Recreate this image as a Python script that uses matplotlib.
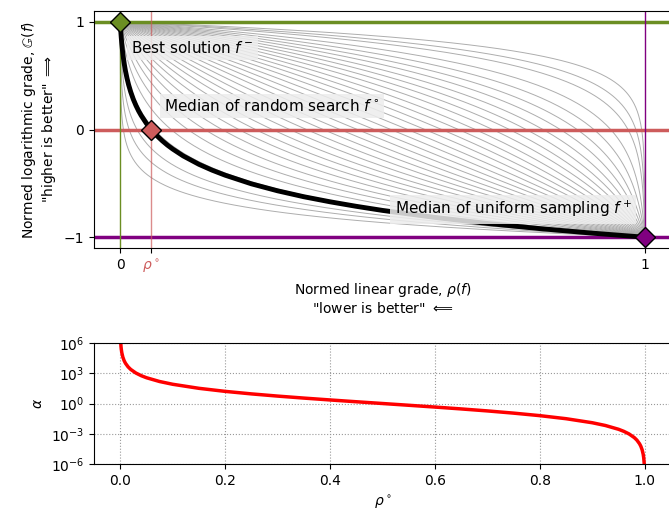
import numpy as np
import matplotlib
matplotlib.use("Agg")
import matplotlib.pyplot as plt

# median of random search
rho_star = 0.059

# where each grey guide curve crosses G = 0
grey_rho_star = [0.006, 0.017, 0.032, 0.065, 0.097, 0.129, 0.161, 0.194, 0.226,
                 0.258, 0.290, 0.323, 0.355, 0.387, 0.419, 0.452, 0.484, 0.516,
                 0.548, 0.581, 0.613, 0.645, 0.677, 0.710, 0.742, 0.774, 0.806,
                 0.839, 0.871, 0.903, 0.935, 0.968, 0.983, 0.994]

# thick black curve, rho -> G
black_rho = [0.0, 0.0005, 0.001, 0.002, 0.003, 0.004, 0.006, 0.008, 0.01, 0.013,
             0.016, 0.02, 0.025, 0.03, 0.035, 0.04, 0.05, 0.059, 0.07, 0.08, 0.09,
             0.1, 0.12, 0.15, 0.175, 0.2, 0.25, 0.3, 0.35, 0.4, 0.45, 0.5, 0.6,
             0.7, 0.8, 0.9, 1.0]
black_G = [1.0, 0.957, 0.918, 0.852, 0.796, 0.747, 0.666, 0.600, 0.544, 0.474,
           0.415, 0.349, 0.280, 0.223, 0.173, 0.130, 0.056, 0.0, -0.058, -0.104,
           -0.145, -0.181, -0.245, -0.323, -0.377, -0.424, -0.504, -0.569, -0.624,
           -0.671, -0.713, -0.751, -0.816, -0.872, -0.920, -0.962, -1.0]

# lower panel: alpha against rho°
alpha_rho = [0.001, 0.0015, 0.002, 0.003, 0.005, 0.0075, 0.01, 0.015, 0.02, 0.03,
             0.04, 0.05, 0.075, 0.1, 0.15, 0.2, 0.25, 0.3, 0.35, 0.4, 0.45, 0.5,
             0.55, 0.6, 0.65, 0.7, 0.75, 0.8, 0.85, 0.9, 0.925, 0.95, 0.96, 0.97,
             0.98, 0.985, 0.99, 0.9925, 0.995, 0.997, 0.998, 0.999]
alpha_val = [9.98e5, 4.43e5, 2.49e5, 1.104e5, 3.96e4, 1.751e4, 9.80e3, 4.31e3,
             2.40e3, 1.045e3, 576, 361, 152, 81, 32.1, 16, 9, 5.44, 3.45, 2.25,
             1.494, 1.0, 0.669, 0.444, 0.290, 0.184, 0.111, 0.0625, 0.0311,
             0.01235, 6.57e-3, 2.77e-3, 1.736e-3, 9.57e-4, 4.17e-4, 2.32e-4,
             1.02e-4, 5.71e-5, 2.53e-5, 9.05e-6, 4.02e-6, 1.0e-6]

green = "#6b8e23"
red = "#cd5c5c"
purple = "#800080"


def grade(rho, r0):
    a = ((1 - r0) / r0) ** 2
    return 1 - 2 * np.log1p((a - 1) * rho) / np.log(a)


fig = plt.figure(figsize=(6.69, 5.12), dpi=100)
ax = fig.add_axes([0.1405, 0.5156, 0.8625, 0.4629])
ax2 = fig.add_axes([0.1405, 0.09375, 0.8625, 0.2363])

rho = np.unique(np.concatenate([np.geomspace(1e-7, 0.5, 500),
                                1 - np.geomspace(1e-7, 0.5, 500), [0, 1]]))
for r0 in grey_rho_star:
    ax.plot(rho, grade(rho, r0), color="0.68", lw=0.7, zorder=1)

ax.plot(black_rho, black_G, color="black", lw=3.5, zorder=3)

ax.axhline(1, color=green, lw=2.5, zorder=2)
ax.axhline(0, color=red, lw=2.5, zorder=2)
ax.axhline(-1, color=purple, lw=2.5, zorder=2)
ax.axvline(0, color=green, lw=1, zorder=2)
ax.axvline(rho_star, color=red, lw=1, alpha=0.7, zorder=2)
ax.axvline(1, color=purple, lw=1, zorder=2)

ax.plot([0], [1], "D", color=green, mec="black", ms=10, zorder=6)
ax.plot([rho_star], [0], "D", color=red, mec="black", ms=10, zorder=6)
ax.plot([1], [-1], "D", color=purple, mec="black", ms=10, zorder=6)

box = dict(facecolor="0.93", edgecolor="none", alpha=0.85, pad=3)
ax.text(0.021, 0.76, "Best solution $f^-$", fontsize=11, va="center", bbox=box, zorder=5)
ax.text(0.084, 0.22, "Median of random search $f^\\circ$", fontsize=11, va="center",
        bbox=box, zorder=5)
ax.text(0.523, -0.74, "Median of uniform sampling $f^+$", fontsize=11, va="center",
        bbox=box, zorder=5)

ax.set_xlim(-0.05, 1.05)
ax.set_ylim(-1.1, 1.1)
ax.set_xticks([0, rho_star, 1])
ax.set_xticklabels(["0", "$\\rho^\\circ$", "1"])
ax.get_xticklabels()[1].set_color(red)
ax.set_yticks([-1, 0, 1])
ax.set_xlabel('Normed linear grade, $\\rho(f)$\n"lower is better" $\\Longleftarrow$')
ax.set_ylabel('Normed logarithmic grade, $\\mathbb{G}(f)$\n"higher is better" $\\Longrightarrow$')

ax2.plot(alpha_rho, alpha_val, color="red", lw=2.5)
ax2.set_yscale("log")
ax2.set_ylim(1e-6, 1e6)
ax2.set_yticks([1e-6, 1e-3, 1e0, 1e3, 1e6])
ax2.minorticks_off()
ax2.set_xlim(-0.05, 1.05)
ax2.grid(True, ls=":", color="0.6")
ax2.set_xlabel("$\\rho^\\circ$")
ax2.set_ylabel("$\\alpha$")

fig.savefig("out.png", dpi=100)
